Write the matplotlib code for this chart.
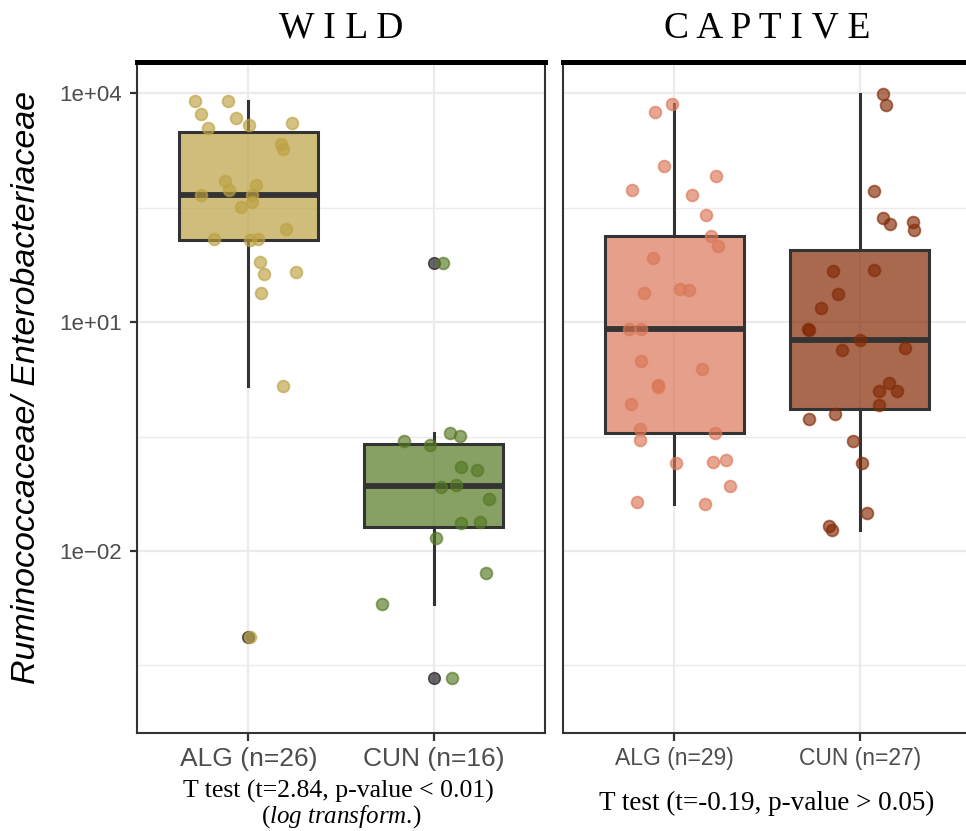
import matplotlib
matplotlib.use("Agg")
import matplotlib.pyplot as plt

plt.rcParams['mathtext.fontset'] = 'custom'
plt.rcParams['mathtext.rm'] = 'Liberation Serif'
plt.rcParams['mathtext.it'] = 'Liberation Serif:italic'

# log10(Ruminococcaceae / Enterobacteriaceae)
wild_alg = [3.895, 3.899, 3.734, 3.681, 3.545, 3.580, 3.610, 3.331, 3.274, 2.854,
            2.736, 2.793, 2.661, 2.661, 2.574, 2.508, 2.224, 2.093, 2.071, 2.093,
            1.791, 1.628, 1.655, 1.385, 0.164, -3.126]
wild_alg_jit = [-0.289, -0.109, -0.254, -0.065, -0.217, 0.005, 0.238, 0.177, 0.187, -0.124,
                -0.106, 0.043, -0.254, 0.020, 0.020, -0.038, 0.206, -0.183, 0.011, 0.054,
                0.063, 0.084, 0.256, 0.068, 0.188, 0.010]

wild_cun = [-0.558, -0.610, -0.453, -0.492, -0.895, -0.934, -1.167, -1.135, -1.324, -1.634,
            -1.617, -1.831, -2.290, -2.697, -3.660, 1.778]
wild_cun_jit = [-0.161, -0.022, 0.090, 0.141, 0.147, 0.235, 0.041, 0.122, 0.297, 0.145,
                0.247, 0.011, 0.281, -0.281, 0.098, 0.050]

capt_alg = [3.865, 3.751, 3.046, 2.913, 2.730, 2.661, 2.408, 2.123, 1.992, 1.838,
            1.384, 1.432, 1.419, 0.907, 0.907, 0.496, 0.382, 0.151, 0.181, -0.077,
            -0.402, -0.451, -0.546, -0.850, -0.829, -0.807, -1.148, -1.363, -1.380]
capt_alg_jit = [-0.011, -0.106, -0.054, 0.227, -0.226, 0.097, 0.172, 0.199, 0.237, -0.115,
                -0.163, 0.031, 0.077, -0.246, -0.177, -0.179, 0.149, -0.088, -0.086, -0.231,
                -0.183, 0.222, -0.187, 0.012, 0.208, 0.278, 0.303, -0.199, 0.167]

capt_cun = [3.987, 3.852, 2.714, 2.364, 2.285, 2.307, 2.202, 1.664, 1.681, 1.375,
            1.182, 0.916, 0.899, 0.768, 0.636, 0.667, 0.207, 0.098, 0.102, -0.082,
            -0.265, -0.203, -0.558, -0.852, -1.508, -1.673, -1.726]
capt_cun_jit = [0.124, 0.141, 0.075, 0.124, 0.163, 0.285, 0.294, -0.144, 0.079, -0.118,
                -0.210, -0.278, -0.273, 0.0, -0.098, 0.242, 0.156, 0.104, 0.203, 0.106,
                -0.273, -0.134, -0.038, 0.012, 0.039, -0.165, -0.151]

panels = ["W I L D", "C A P T I V E"]
wild_labels = ["ALG (n=26)", "CUN (n=16)"]
capt_labels = ["ALG (n=29)", "CUN (n=27)"]
wild_colors = ["#BDA243", "#557823"]
capt_colors = ["#DB7758", "#832A05"]

major_ticks = [-2, 1, 4]
major_labels = ["1e\u221202", "1e+01", "1e+04"]
minor_ticks = [-3.5, -0.5, 2.5]

W, H = 966, 831
fig = plt.figure(figsize=(W / 100, H / 100), dpi=100)

ax1 = fig.add_axes([137 / W, 1 - 733 / H, 408 / W, 671 / H])
ax2 = fig.add_axes([563 / W, 1 - 733 / H, 408 / W, 671 / H])


def draw_panel(ax, groups, jits, colors, labels, title, label_size):
    ax.set_xlim(0.4, 2.6)
    ax.set_ylim(-4.386, 4.41)
    ax.set_axisbelow(True)
    ax.set_yticks(major_ticks)
    ax.set_yticks(minor_ticks, minor=True)
    ax.grid(True, which='major', color='#EBEBEB', lw=1.6)
    ax.grid(True, which='minor', axis='y', color='#EBEBEB', lw=1.0)
    ax.tick_params(axis='y', which='minor', length=0)

    bp = ax.boxplot(groups, positions=[1, 2], widths=0.75, patch_artist=True,
                    showcaps=False, whis=1.5,
                    boxprops=dict(edgecolor='#333333', lw=2.2),
                    medianprops=dict(color='#333333', lw=4.2),
                    whiskerprops=dict(color='#333333', lw=2.2),
                    flierprops=dict(marker='o', markerfacecolor='black',
                                    markeredgecolor='black', alpha=0.6,
                                    markersize=8.5))
    for patch, c in zip(bp['boxes'], colors):
        patch.set_facecolor(matplotlib.colors.to_rgba(c, 0.7))

    for i, (vals, jit, c) in enumerate(zip(groups, jits, colors)):
        xs = [i + 1 + j for j in jit]
        ax.plot(xs, vals, 'o', ms=8.5, mfc=c, mec=c, mew=1.3, alpha=0.65,
                zorder=4, ls='none')

    ax.set_xticks([1, 2])
    ax.set_xticklabels(labels, fontsize=label_size, color='#4D4D4D',
                       family=['Liberation Sans', 'DejaVu Sans'])
    ax.tick_params(axis='x', length=6, width=1.6, color='#333333', pad=4)
    for s in ['left', 'right', 'bottom']:
        ax.spines[s].set_color('#333333')
        ax.spines[s].set_linewidth(1.5)
    ax.spines['top'].set_color('black')
    ax.spines['top'].set_linewidth(3.6)
    box = ax.get_position()
    fig.text((box.x0 + box.x1) / 2, 1 - 38 / H, title, ha='center', va='baseline',
             family=['Liberation Serif', 'DejaVu Serif'], fontsize=27)


draw_panel(ax1, [wild_alg, wild_cun], [wild_alg_jit, wild_cun_jit], wild_colors,
           wild_labels, panels[0], 19)
draw_panel(ax2, [capt_alg, capt_cun], [capt_alg_jit, capt_cun_jit], capt_colors,
           capt_labels, panels[1], 16.5)

ax1.set_yticklabels(major_labels, fontsize=16, color='#4D4D4D',
                    family=['Liberation Sans', 'DejaVu Sans'])
ax1.tick_params(axis='y', which='major', length=5, width=1.6, color='#333333', pad=6)
ax2.tick_params(axis='y', which='major', length=0, labelleft=False)
ax2.spines['right'].set_visible(False)

fig.text(27 / W, 1 - 388 / H, "Ruminococcaceae/ Enterobacteriaceae", rotation=90,
         ha='center', va='center', fontsize=24.5, style='italic',
         family=['Liberation Sans', 'DejaVu Sans'])

fig.text(338 / W, 1 - 791 / H, "T test (t=2.84, p-value < 0.01)", ha='center',
         va='center', fontsize=18.5, family=['Liberation Serif', 'DejaVu Serif'])
fig.text(341 / W, 1 - 817 / H, r"($\mathit{log\ transform}$.)", ha='center',
         va='center', fontsize=18, family=['Liberation Serif', 'DejaVu Serif'])
fig.text(767 / W, 1 - 803 / H, "T test (t=-0.19, p-value > 0.05)", ha='center',
         va='center', fontsize=19.5, family=['Liberation Serif', 'DejaVu Serif'])

fig.savefig("out.png", dpi=100)
